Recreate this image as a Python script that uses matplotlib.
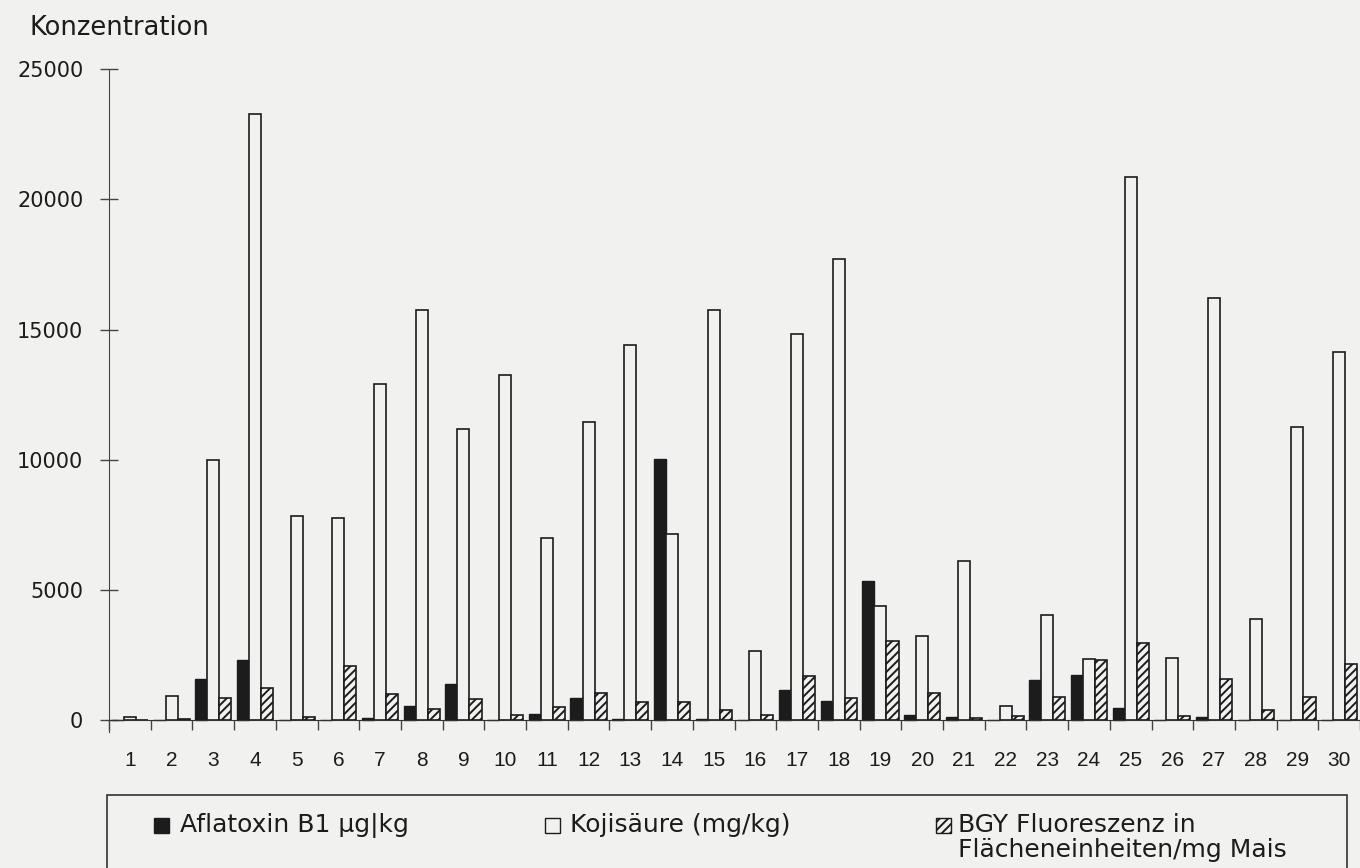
import matplotlib
matplotlib.use('Agg')
import matplotlib.pyplot as plt
from matplotlib.patches import Rectangle
import numpy as np

# Probe 1..30, three measurements each
samples = list(range(1, 31))
aflatoxin = [0, 0, 1600, 2300, 0, 30, 90, 550, 1400, 0,
             250, 850, 40, 10050, 50, 0, 1150, 750, 5350, 200,
             130, 0, 1550, 1750, 460, 0, 140, 30, 30, 30]
kojic = [120, 930, 10000, 23300, 7850, 7750, 12900, 15750, 11200, 13250,
         7000, 11450, 14400, 7150, 15750, 2650, 14850, 17700, 4400, 3250,
         6100, 550, 4050, 2350, 20850, 2400, 16200, 3900, 11250, 14150]
bgy = [0, 60, 850, 1250, 130, 2100, 1000, 450, 800, 200,
       500, 1050, 700, 700, 400, 190, 1700, 850, 3050, 1050,
       90, 150, 900, 2300, 2950, 180, 1600, 400, 900, 2150]
yticks = [0, 5000, 10000, 15000, 20000, 25000]
legend_labels = ['Aflatoxin B1 µg|kg', 'Kojisäure (mg/kg)',
                 'BGY Fluoreszenz in\nFlächeneinheiten/mg Mais']

bg = '#f1f1ef'
ink = '#1c1c1c'
plt.rcParams['hatch.linewidth'] = 1.4
plt.rcParams['hatch.color'] = ink

W, H = 1360, 868
fig = plt.figure(figsize=(W / 100, H / 100), dpi=100, facecolor=bg)
ax = fig.add_axes([109 / W, 1 - 732 / H, 1 - 109 / W, (732 - 69.3) / H])
ax.set_facecolor(bg)

x = np.arange(1, 31)
w = 0.29
ax.bar(x - w, aflatoxin, w, color=ink, edgecolor=ink, lw=1)
ax.bar(x, kojic, w, color=bg, edgecolor=ink, lw=1.2)
ax.bar(x + w, bgy, w, color=bg, edgecolor=ink, lw=1.2, hatch='////')

ax.set_xlim(0.5, 30.5)
ax.set_ylim(-450, 25000)
for s in ['top', 'right']:
    ax.spines[s].set_visible(False)
ax.spines['bottom'].set_position(('data', 0))
ax.spines['left'].set_color('#444')
ax.spines['bottom'].set_color('#333')

ax.set_xticks(np.arange(0.5, 30.6, 1))
ax.set_xticklabels([])
ax.set_xticks(x, minor=True)
ax.set_xticklabels(samples, minor=True, family='Liberation Sans', fontsize=15, color=ink)
ax.tick_params(axis='x', which='major', direction='out', length=7, width=1, color='#444')
ax.tick_params(axis='x', which='minor', length=0, pad=22)

ax.set_yticks(yticks)
ax.set_yticklabels([str(v) for v in yticks], fontsize=15, color=ink)
ax.tick_params(axis='y', direction='inout', length=13, width=1, pad=12, color='#444')

fig.text(30 / W, 1 - 28 / H, 'Konzentration', fontsize=18.5, color=ink, va='center')

# legend box (bottom edge runs off the page)
fig.add_artist(Rectangle((107 / W, -0.1), (1347 - 107) / W, 0.1 + 1 - 795 / H,
                         transform=fig.transFigure, fill=False, lw=1.2, ec='#333'))
row = 825
sq = 15
styles = [dict(fc=ink, ec=ink), dict(fc=bg, ec=ink), dict(fc=bg, ec=ink, hatch='////')]
mark_x = [154, 545, 936]
text_x = [180, 570, 958]
for mx, tx, st, lab in zip(mark_x, text_x, styles, legend_labels):
    fig.add_artist(Rectangle((mx / W, 1 - (row + sq / 2) / H), sq / W, sq / H,
                             transform=fig.transFigure, lw=1, **st))
    fig.text(tx / W, 1 - (row - 12) / H, lab, fontsize=18, color=ink,
             va='top', linespacing=1.05)

fig.savefig('out.png', dpi=100, facecolor=bg)
